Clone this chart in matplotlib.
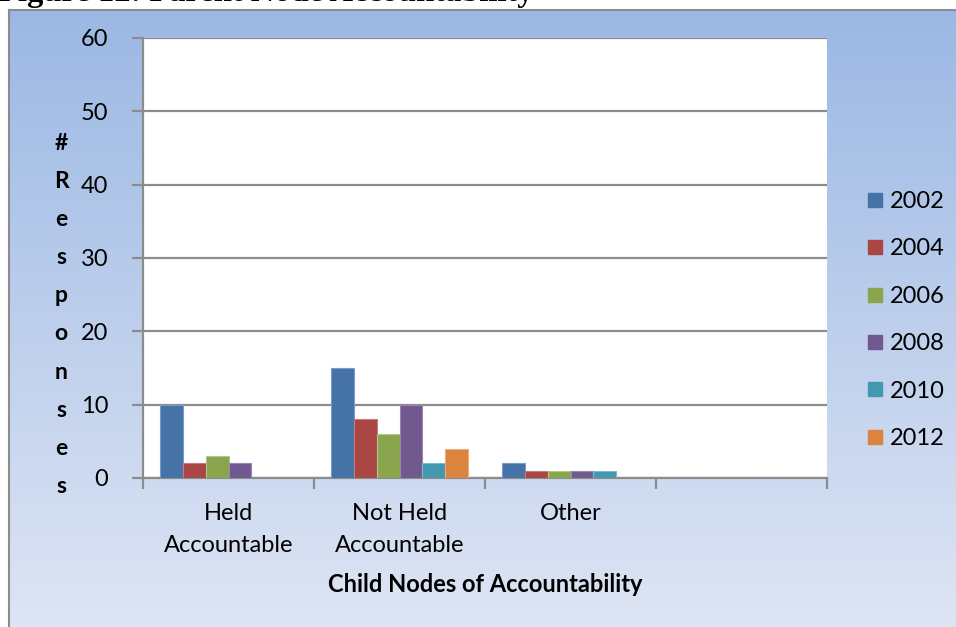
import numpy as np
import matplotlib
matplotlib.use("Agg")
from matplotlib import pyplot as plt
from matplotlib.lines import Line2D

categories = ["Held\nAccountable", "Not Held\nAccountable", "Other", ""]
years = ["2002", "2004", "2006", "2008", "2010", "2012"]
responses = {
    "2002": [10, 15, 2, 0],
    "2004": [2, 8, 1, 0],
    "2006": [3, 6, 1, 0],
    "2008": [2, 10, 1, 0],
    "2010": [0, 2, 1, 0],
    "2012": [0, 4, 0, 0],
}
colors = ["#4572A7", "#AA4643", "#89A54E", "#71588F", "#4198AF", "#DB843D"]
edge_colors = ["#7b9cc6", "#c77a78", "#b0c988", "#9886ad", "#7cbccd", "#e9ac7a"]

plt.rcParams['font.family'] = ['Lato', 'DejaVu Sans']
FS = 17

W, H = 956, 627
fig = plt.figure(figsize=(W / 100, H / 100), dpi=100)
fig.patch.set_facecolor("white")

# gradient panel behind the chart
bg = fig.add_axes([9 / W, 0, 1 - 9 / W, (H - 10) / H])
top = np.array([155, 184, 228]) / 255
bot = np.array([222, 229, 244]) / 255
t = np.linspace(0, 1, 256)[:, None]
grad = top[None, :] * (1 - t) + bot[None, :] * t
bg.imshow(grad[:, None, :], aspect="auto", extent=[0, 1, 0, 1])
bg.set_xticks([])
bg.set_yticks([])
for side in ["right", "bottom"]:
    bg.spines[side].set_visible(False)
for side in ["left", "top"]:
    bg.spines[side].set_color("#8c8c8c")
    bg.spines[side].set_linewidth(1.5)

fig.text(-2 / W, 1 - 1.5 / H, "Figure 12: Parent Node Accountability",
         family="Liberation Serif", weight="bold", fontsize=23.4,
         va="baseline", ha="left", color="black")

ax = fig.add_axes([143 / W, 149 / H, 684 / W, 440 / H])
ax.set_facecolor("white")

n = len(years)
x = np.arange(len(categories))
width = 0.8 / n
for i, yr in enumerate(years):
    offs = -0.4 + width * (i + 0.5)
    ax.bar(x + offs, responses[yr], width, color=colors[i],
           edgecolor=edge_colors[i], linewidth=0.8, zorder=3, label=yr)

ax.set_xlim(-0.5, len(categories) - 0.5)
ax.set_ylim(0, 60)
ax.set_yticks(np.arange(0, 61, 10))
ax.yaxis.grid(True, color="#8c8c8c", linewidth=1.6, zorder=1)
ax.tick_params(axis="y", labelsize=FS, length=8, width=1.6,
               color="#8c8c8c", pad=17)
ax.set_xticks(np.arange(len(categories) + 1) - 0.5)
ax.set_xticklabels([])
ax.tick_params(axis="x", length=8, width=1.6, color="#8c8c8c")
for i, c in enumerate(categories):
    ax.text(i, -3.45, c, ha="center", va="top", fontsize=FS,
            linespacing=1.65)
for side in ["top", "right"]:
    ax.spines[side].set_visible(False)
for side in ["left", "bottom"]:
    ax.spines[side].set_color("#8c8c8c")
    ax.spines[side].set_linewidth(1.6)

fig.text(485 / W, 1 - 585 / H, "Child Nodes of Accountability",
         ha="center", va="center", fontsize=FS, weight="bold")

# stacked letters for the vertical axis title
ylab = "#Responses"
for k, ch in enumerate(ylab):
    fig.text(61 / W, 1 - (143 + k * 38.2) / H, ch, ha="center", va="center",
             fontsize=FS - 0.5, weight="bold")

handles = [Line2D([], [], marker="s", linestyle="none", markersize=10.5,
                  markerfacecolor=c, markeredgecolor=c) for c in colors]
fig.legend(handles, years, loc="center left",
           bbox_to_anchor=(851 / W, 1 - 320 / H), frameon=False,
           fontsize=FS, labelspacing=1.12, handletextpad=0.15,
           handlelength=1.0, borderpad=0)

fig.savefig("out.png", dpi=100)
